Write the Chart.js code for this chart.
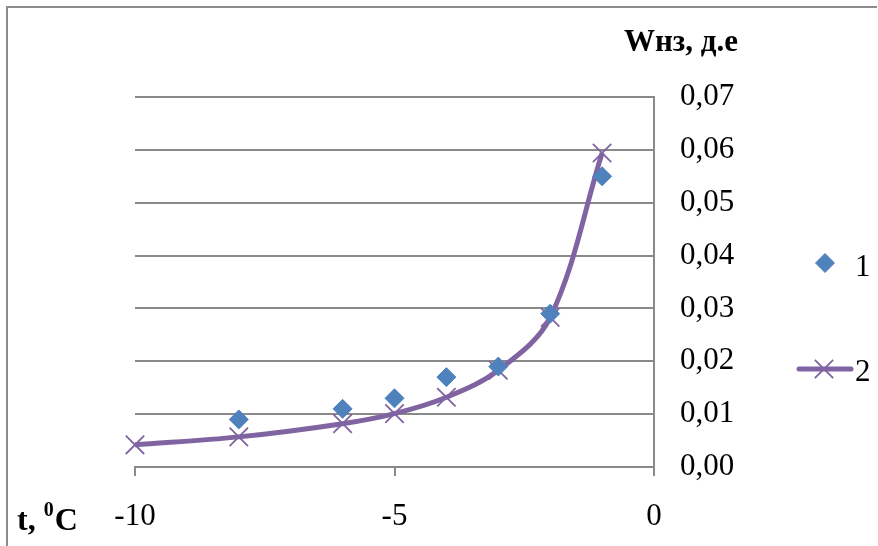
<!DOCTYPE html>
<html>
<head>
<meta charset="utf-8">
<script src="https://cdn.jsdelivr.net/npm/chart.js@4.4.1/dist/chart.umd.min.js"></script>
<style>
  html, body { margin: 0; padding: 0; background: #fff; }
  #wrap { position: relative; width: 878px; height: 546px; }
</style>
</head>
<body>
<div id="wrap"><canvas id="c" width="878" height="546"></canvas></div>
<script>
// Temperature, °C
const temps1 = [-8, -6, -5, -4, -3, -2, -1];
const temps2 = [-10, -8, -6, -5, -4, -3, -2, -1];
// Unfrozen water content, fractions of unit
const series1 = [0.009, 0.011, 0.013, 0.017, 0.019, 0.029, 0.055];
const series2 = [0.0042, 0.0057, 0.0082, 0.0101, 0.0132, 0.0183, 0.0283, 0.0594];
const seriesNames = ['1', '2'];
const yTitle = 'Wнз, д.е';
const xTitle = ['t, ', '0', 'C'];

const BLUE = '#4F81BD';
const PURPLE = '#8064A2';
const GRID = '#8a8a8a';
const SERIF = '"Liberation Serif", "Times New Roman", serif';

// Frame, axis captions and legend
const decor = {
  id: 'decor',
  afterDraw(chart) {
    const ctx = chart.ctx;
    ctx.save();
    // outer frame (open to the right and bottom edges)
    ctx.strokeStyle = '#8c8c8c';
    ctx.lineWidth = 2;
    ctx.beginPath();
    ctx.moveTo(7, 546);
    ctx.lineTo(7, 7);
    ctx.lineTo(877, 7);
    ctx.stroke();

    ctx.fillStyle = '#000';
    ctx.textBaseline = 'alphabetic';
    // y axis caption
    ctx.font = 'bold 31px ' + SERIF;
    ctx.textAlign = 'right';
    ctx.fillText(yTitle, 738, 51);
    // x axis caption with superscript degree
    ctx.textAlign = 'left';
    let x = 17;
    ctx.font = 'bold 32px ' + SERIF;
    ctx.fillText(xTitle[0], x, 530);
    x += ctx.measureText(xTitle[0]).width;
    ctx.font = 'bold 20px ' + SERIF;
    ctx.fillText(xTitle[1], x, 516);
    x += ctx.measureText(xTitle[1]).width + 1;
    ctx.font = 'bold 32px ' + SERIF;
    ctx.fillText(xTitle[2], x, 530);

    // legend
    const ds = chart.data.datasets;
    ctx.fillStyle = BLUE; ctx.strokeStyle = BLUE; ctx.lineWidth = 1;
    Chart.helpers.drawPoint(ctx, {
      pointStyle: ds[0].pointStyle, radius: ds[0].pointRadius, rotation: 0, borderWidth: 1
    }, 825, 263);
    ctx.strokeStyle = PURPLE;
    ctx.lineWidth = ds[1].borderWidth;
    ctx.lineCap = 'round';
    ctx.beginPath();
    ctx.moveTo(799, 369);
    ctx.lineTo(851, 369);
    ctx.stroke();
    ctx.lineCap = 'butt';
    ctx.lineWidth = ds[1].pointBorderWidth;
    Chart.helpers.drawPoint(ctx, {
      pointStyle: ds[1].pointStyle, radius: ds[1].pointRadius, rotation: 0,
      borderWidth: ds[1].pointBorderWidth
    }, 824, 369);
    ctx.fillStyle = '#000';
    ctx.font = '31px ' + SERIF;
    ctx.textAlign = 'left';
    ctx.fillText(seriesNames[0], 855, 276);
    ctx.fillText(seriesNames[1], 855, 381);
    ctx.restore();
  }
};

new Chart(document.getElementById('c'), {
  type: 'scatter',
  data: {
    datasets: [
      {
        label: seriesNames[0],
        data: temps1.map((t, i) => ({ x: t, y: series1[i] })),
        showLine: false,
        pointStyle: 'rectRot',
        pointRadius: 9.5,
        pointBackgroundColor: BLUE,
        pointBorderColor: BLUE,
        pointBorderWidth: 1
      },
      {
        label: seriesNames[1],
        data: temps2.map((t, i) => ({ x: t, y: series2[i] })),
        showLine: true,
        tension: 0.35,
        borderColor: PURPLE,
        borderWidth: 5,
        pointStyle: 'crossRot',
        pointRadius: 13,
        pointBorderColor: PURPLE,
        pointBackgroundColor: PURPLE,
        pointBorderWidth: 1.8,
        clip: false
      }
    ]
  },
  options: {
    responsive: false,
    animation: false,
    events: [],
    layout: { padding: { left: 135, top: 97, right: 0, bottom: 0 } },
    plugins: { legend: { display: false }, tooltip: { enabled: false } },
    scales: {
      x: {
        type: 'linear',
        min: -10, max: 0,
        afterFit(s) { s.height = 79; },
        border: { display: true, color: GRID, width: 2 },
        grid: { drawOnChartArea: false, drawTicks: true, tickLength: 9, color: GRID, lineWidth: 2 },
        ticks: {
          stepSize: 5,
          padding: 22,
          color: '#000',
          font: { family: SERIF, size: 31 },
          callback: v => String(v)
        }
      },
      y: {
        type: 'linear',
        position: 'right',
        min: 0, max: 0.07,
        afterFit(s) { s.width = 224; },
        border: { display: true, color: GRID, width: 2 },
        grid: { drawTicks: false, color: GRID, lineWidth: 2 },
        ticks: {
          stepSize: 0.01,
          padding: 26,
          color: '#000',
          font: { family: SERIF, size: 31 },
          callback: v => v.toFixed(2).replace('.', ',')
        }
      }
    }
  },
  plugins: [decor]
});
</script>
</body>
</html>
